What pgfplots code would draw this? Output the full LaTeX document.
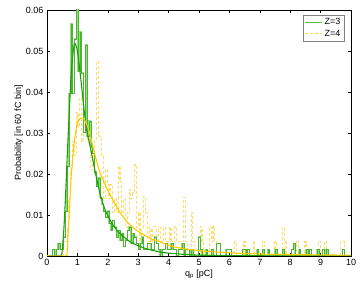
\documentclass[border=0pt]{standalone}
\usepackage{pgfplots}
\pgfplotsset{compat=1.18}
\usepackage{fontspec}
\setmainfont{Liberation Sans}
\definecolor{hgreen}{RGB}{150,222,125}
\definecolor{hgreendk}{RGB}{75,180,50}
\definecolor{fgreen}{RGB}{30,160,10}
\definecolor{hyellow}{RGB}{255,222,110}
\definecolor{fyellow}{RGB}{255,200,0}
\pgfplotstableread{
x y
0 0
0.18 0.0016
0.24 0
0.30 0.0016
0.36 0.0031
0.42 0.0016
0.48 0.0016
0.54 0.0047
0.60 0.011
0.66 0.022
0.72 0.0397
0.78 0.0566
0.84 0.0397
0.90 0.053
0.96 0.0615
1.02 0.045
1.08 0.0547
1.14 0.0446
1.20 0.0302
1.26 0.0515
1.32 0.0293
1.38 0.033
1.44 0.0265
1.50 0.025
1.56 0.0205
1.62 0.017
1.68 0.019
1.74 0.0142
1.80 0.0126
1.86 0.0110
1.92 0.0095
1.98 0.0110
2.04 0.0079
2.10 0.0063
2.16 0.0087
2.22 0.0071
2.28 0.0047
2.34 0.0063
2.40 0.0039
2.46 0.0055
2.52 0.0024
2.58 0.0039
2.64 0.0063
2.70 0.0071
2.76 0.0031
2.82 0.0055
2.88 0.0047
2.94 0.0031
3.00 0.0016
3.06 0.0031
3.12 0.0047
3.18 0.0016
3.24 0.0016
3.30 0.0031
3.36 0.0031
3.42 0.0016
3.48 0.0016
3.54 0.0047
3.60 0.0031
3.66 0.0016
3.72 0
3.78 0.0016
3.90 0.0031
3.96 0.0016
4.08 0.0031
4.14 0.0016
4.26 0
4.32 0.0016
4.44 0.0031
4.50 0
4.56 0.0016
4.68 0
4.74 0.0016
4.80 0
4.98 0.0047
5.04 0.0016
5.10 0
5.22 0.0016
5.28 0
5.40 0.0016
5.46 0
5.58 0.0031
5.70 0
5.88 0.0016
6.06 0
6.42 0.0016
6.54 0
6.60 0.0016
6.66 0
6.90 0.0016
6.96 0
7.08 0.0016
7.14 0
7.26 0.0016
7.32 0
7.50 0.0016
7.56 0
7.74 0.0016
7.80 0
8.04 0.0016
8.10 0.0031
8.16 0
8.28 0.0016
8.34 0
8.52 0.0016
8.58 0
8.64 0.0016
8.70 0
8.88 0.0016
8.94 0
9.06 0.0016
9.12 0
9.18 0.0016
9.24 0
9.72 0.0016
9.78 0
10 0
}\greenhist
\begin{document}
\begin{tikzpicture}
\begin{axis}[
  scale only axis, width=304pt, height=246pt,
  xmin=0, xmax=10, ymin=0, ymax=0.06,
  xtick={0,1,...,10},
  ytick={0,0.01,0.02,0.03,0.04,0.05,0.06},
  yticklabels={0,0.01,0.02,0.03,0.04,0.05,0.06},
  scaled y ticks=false,
  tick align=inside, tick pos=both,
  major tick length=3pt,
  tick style={black, line width=0.4pt},
  axis line style={black, line width=0.5pt},
  /pgf/number format/assume math mode=true,
  tick label style={font=\fontsize{9}{10}\selectfont},
  label style={font=\fontsize{9}{10}\selectfont},
  xlabel={q$_{\mathrm{p}}$ [pC]},
  ylabel={Probability [in 60 fC bin]},
  xlabel style={yshift=3pt},
  ylabel style={yshift=-4pt},
  legend style={at={(rel axis cs:0.977,0.98)}, anchor=north east,
    draw=gray, line width=0.5pt, font=\fontsize{9}{10}\selectfont,
    inner sep=1.5pt, row sep=-0.5pt},
  legend cell align=right,
  clip=true,
]
\addplot[const plot, hyellow, line width=1.1pt, dash pattern=on 3pt off 2pt, forget plot] coordinates {
(0,0) (0.54,0.0035) (0.60,0.0035) (0.66,0.0070) (0.72,0.0140) (0.78,0.0210)
(0.84,0.0280) (0.90,0.0245) (0.96,0.0350) (1.02,0.0315) (1.08,0.0385) (1.14,0.0280)
(1.20,0.0439) (1.26,0.0350) (1.32,0.0280) (1.38,0.0315) (1.44,0.0210) (1.50,0.0245)
(1.56,0.0280) (1.62,0.0474) (1.68,0.0293) (1.74,0.0291) (1.80,0.0245) (1.86,0.0140)
(1.92,0.0210) (1.98,0.0175) (2.04,0.0140) (2.10,0.0175) (2.16,0.0105) (2.22,0.0140)
(2.28,0.0105) (2.34,0.0218) (2.40,0.0181) (2.46,0.0105) (2.52,0.0140) (2.58,0.0070)
(2.64,0.0105) (2.70,0.0161) (2.76,0.0141) (2.82,0.0154) (2.88,0.0222) (2.94,0.0070)
(3.00,0.0105) (3.06,0.0035) (3.12,0.0070) (3.18,0.0145) (3.24,0.0105) (3.30,0.0035)
(3.36,0.0070) (3.42,0.0035) (3.48,0.0071) (3.54,0.0071) (3.60,0.0035) (3.66,0.0070)
(3.72,0.0035) (3.84,0.0070) (3.90,0.0035) (4.02,0.0070) (4.08,0.0035) (4.20,0.0071)
(4.26,0.0035) (4.38,0.0035) (4.50,0.0143) (4.56,0.0035) (4.62,0) (4.74,0.0106)
(4.80,0.0035) (4.86,0) (5.04,0.0071) (5.10,0.0035) (5.16,0) (5.34,0.0071)
(5.40,0.0035) (5.46,0.0071) (5.52,0.0035) (5.58,0) (6.18,0.0035) (6.24,0)
(6.48,0.0035) (6.54,0) (6.78,0.0035) (6.84,0) (7.08,0.0035) (7.14,0)
(7.50,0.0035) (7.56,0) (7.74,0.0070) (7.80,0.0035) (7.86,0) (8.22,0.0035)
(8.28,0) (8.46,0.0035) (8.52,0) (8.94,0.0035) (9.00,0) (9.12,0.0035)
(9.18,0) (9.66,0.0035) (9.72,0.0035) (9.78,0) (10,0)
};
\addplot[const plot, hgreen, line width=1.3pt, forget plot] table {\greenhist};
\addplot[const plot, hgreendk, line width=0.35pt, forget plot] table {\greenhist};
% fitted curves
\addplot[fgreen, line width=1.1pt, smooth, tension=0.4, forget plot] coordinates {
(0,0) (0.45,0) (0.5,0.0015) (0.55,0.006) (0.6,0.013) (0.7,0.030) (0.8,0.045)
(0.9,0.0518) (1.0,0.050) (1.1,0.044) (1.2,0.037) (1.3,0.031) (1.44,0.026)
(1.6,0.020) (1.75,0.015) (1.9,0.0115) (2.0,0.0098) (2.2,0.0072) (2.4,0.0055)
(2.6,0.0042) (2.8,0.0032) (3.0,0.0025) (3.3,0.0017) (3.7,0.001) (4.0,0.0007)
(4.5,0.0004) (5,0.0002) (6,0.0001) (7,0.00005) (10,0)
};
\addplot[fyellow, line width=1.1pt, smooth, tension=0.4, forget plot] coordinates {
(0,0) (0.62,0) (0.66,0.001) (0.7,0.006) (0.75,0.013) (0.8,0.020) (0.9,0.028)
(1.0,0.0325) (1.1,0.0336) (1.2,0.0335) (1.3,0.0322) (1.4,0.030) (1.5,0.027)
(1.6,0.024) (1.75,0.0202) (2.0,0.016) (2.2,0.0132) (2.4,0.0106) (2.7,0.0078)
(3.0,0.006) (3.4,0.0043) (3.7,0.0035) (4.0,0.0026) (4.4,0.0019) (5.0,0.0013)
(5.7,0.0009) (6.5,0.0006) (7.5,0.0004) (8.5,0.0003) (10,0.0002)
};
\addlegendimage{hgreendk!80!hgreen, line width=0.8pt}
\addlegendentry{Z=3}
\addlegendimage{fyellow!70!white, line width=0.8pt, dash pattern=on 3pt off 2pt}
\addlegendentry{Z=4}
\end{axis}
\pgfresetboundingbox
\path ([shift={(-47pt,-33pt)}]current axis.south west) rectangle ([shift={(9pt,10pt)}]current axis.north east);
\end{tikzpicture}
\end{document}
